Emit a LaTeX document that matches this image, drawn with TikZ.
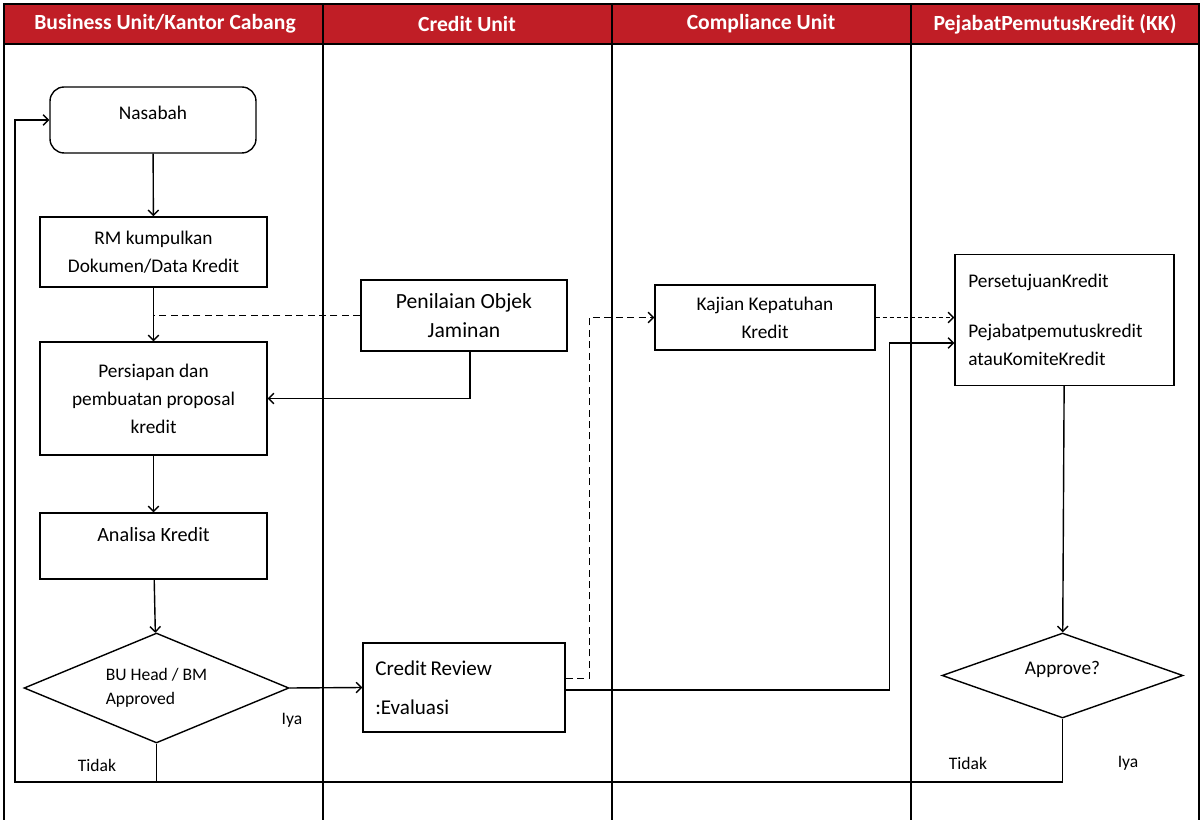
\documentclass[tikz,border=0pt]{standalone}
\usepackage{fontspec}
\setmainfont{Carlito}
\usetikzlibrary{shapes.geometric,arrows.meta}
\definecolor{laneRed}{RGB}{192,30,38}

\begin{document}
\begin{tikzpicture}[x=0.02cm, y=-0.02cm, line width=0.8pt,
    every node/.style={font=\fontsize{11}{15.9}\selectfont},
    lanehead/.style={text=white, font=\bfseries\fontsize{12.3}{14}\selectfont},
    process/.style={rectangle, draw, inner sep=2pt, align=center},
    start/.style={process, rounded corners=8pt},
    decision/.style={diamond, draw, inner sep=0pt, align=left, font=\fontsize{10}{14}\selectfont},
    answer/.style={font=\fontsize{10}{12}\selectfont},
    flow/.style={-{Straight Barb[length=3pt,width=6pt]}},
    link/.style={flow, dashed, dash pattern=on 4pt off 2.5pt},
    finelink/.style={flow, dash pattern=on 2.5pt off 1.5pt}
]
\useasboundingbox (0,0) rectangle (1203,820);

% Lanes
\fill[laneRed] (4,4) rectangle (1199,44);
\draw (4,820) -- (4,4) -- (1199,4) -- (1199,820);
\draw (4,44) -- (1199,44);
\foreach \x in {323,612,911}
    \draw (\x,4) -- (\x,820);

\node[lanehead] (h1) at (165,24) {Business Unit/Kantor Cabang};
\node[lanehead] (h2) at (467,24) {Credit Unit};
\node[lanehead] (h3) at (761,24) {Compliance Unit};
\node[lanehead] (h4) at (1055,24) {PejabatPemutusKredit (KK)};

% Business Unit / Kantor Cabang
\node[start, minimum width=4.12cm, minimum height=1.32cm, text depth=0.28cm] (nas) at (153,120) {Nasabah};
\node[process, minimum width=4.54cm, minimum height=1.4cm] (rm) at (153.5,252) {RM kumpulkan\\Dokumen/Data Kredit};
\node[process, minimum width=4.54cm, minimum height=2.26cm] (pers) at (153.5,398.5) {Persiapan dan\\pembuatan proposal\\kredit};
\node[process, minimum width=4.54cm, minimum height=1.32cm, text depth=0.45cm, font=\fontsize{11.5}{15.9}\selectfont] (ana) at (153.5,546) {Analisa Kredit};
\node[decision, shape aspect=2.4, minimum width=5.3cm, minimum height=2.2cm] (bu) at (156.5,688) {BU Head / BM\\Approved};

\node[answer] (iya1) at (292,720) {Iya};
\node[answer] (tidak1) at (97,765) {Tidak};

% Credit Unit
\node[process, minimum width=4.12cm, minimum height=1.42cm, font=\fontsize{12.3}{16.5}\selectfont] (pen) at (464,315.5) {Penilaian Objek\\Jaminan};
\node[process, minimum width=4.04cm, minimum height=1.78cm, text width=3.55cm, align=left, font=\fontsize{12}{15.9}\selectfont] (cr) at (464,687.5) {Credit\,Review\\[0.22cm]:Evaluasi};

% Compliance Unit
\node[process, minimum width=4.4cm, minimum height=1.3cm] (kaj) at (765,317.5) {Kajian Kepatuhan\\Kredit};

% Pejabat Pemutus Kredit
\node[process, minimum width=4.38cm, minimum height=2.62cm, text width=3.85cm, align=left] (pk) at (1064.5,320) {PersetujuanKredit\\[0.44cm]Pejabatpemutuskredit\\atauKomiteKredit};
\node[decision, shape aspect=2.8, minimum width=4.82cm, minimum height=1.7cm, text depth=0.3cm, font=\fontsize{11}{14}\selectfont] (appr) at (1062.5,675.5) {Approve?};

\node[answer] (tidak2) at (968,763) {Tidak};
\node[answer] (iya2) at (1128,763) {Iya};

% Flow
\draw[flow] (nas) -- (rm);
\draw[flow] (rm) -- (pers);
\draw[flow] (pers) -- (ana);
\draw[flow] (ana) -- (bu);
\draw[flow] (bu.east) -- (cr.west);

\draw[dashed, dash pattern=on 4pt off 2.5pt] (pen.west) -- (pen.west -| rm.south);
\draw[flow] ([xshift=0.12cm]pen.south) |- (pers.east);

\coordinate (back) at (15,782);
\draw[flow] (bu.south) |- (back) |- (nas.west);
\draw (appr.south) |- (back);

\draw[link] ([yshift=0.18cm]cr.east) -| ([xshift=-1.3cm]kaj.west) -- (kaj.west);
\draw[flow] ([yshift=-0.05cm]cr.east) -| ([xshift=-1.3cm, yshift=-0.46cm]pk.west) -- ([yshift=-0.46cm]pk.west);
\draw[finelink] (kaj.east) -- (kaj.east -| pk.west);
\draw[flow] (pk) -- (appr);

\end{tikzpicture}
\end{document}
